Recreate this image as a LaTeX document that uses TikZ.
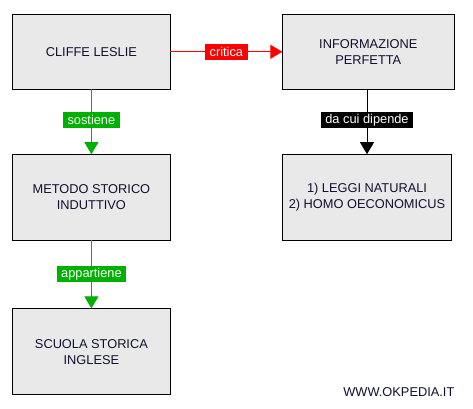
\documentclass[tikz,border=0pt]{standalone}
\usepackage{fontspec}
\setmainfont{Liberation Sans}
\usetikzlibrary{arrows.meta}
\definecolor{boxfill}{HTML}{E9E9E9}
\definecolor{txt}{HTML}{101030}
\definecolor{lgreen}{HTML}{00B000}
\begin{document}
\begin{tikzpicture}[x=1pt,y=-1pt,
  box/.style={draw=black,line width=1.1pt,fill=boxfill,inner sep=0pt,outer sep=0pt,
    align=center,text=txt,font=\fontsize{12.8}{16}\selectfont},
  lbl/.style={text=white,inner sep=0pt,minimum height=16pt,font=\fontsize{12.8}{15}\selectfont},
  tip/.style={-{Triangle[length=12pt,width=14pt]}},
  conn/.style={line width=0.9pt}]
\useasboundingbox (0,0) rectangle (473,408);
\fill[white] (0,0) rectangle (473,408);
\node[box,minimum width=158pt,minimum height=75pt] (cliffe) at (91.4,51.8) {CLIFFE LESLIE};
\node[box,minimum width=172pt,minimum height=75pt] (info) at (368.3,51.8) {INFORMAZIONE\\PERFETTA};
\node[box,minimum width=158pt,minimum height=86pt] (metodo) at (91.4,197.2) {METODO STORICO\\INDUTTIVO};
\node[box,minimum width=169.5pt,minimum height=86pt] (leggi) at (367,197.2) {1) LEGGI NATURALI\\2) HOMO OECONOMICUS};
\node[box,minimum width=158pt,minimum height=86.5pt] (scuola) at (91.4,351.6) {SCUOLA STORICA\\INGLESE};
\node[text=txt,font=\fontsize{12.8}{15}\selectfont,anchor=east,inner sep=0pt] (www) at (454.5,392.5) {WWW.OKPEDIA.IT};
\draw[conn,red,tip] (cliffe) -- node[lbl,fill=red,minimum width=43pt] (lc) {critica} (info);
\draw[conn,lgreen,tip] (cliffe) -- node[lbl,fill=lgreen,minimum width=57pt,pos=0.47] (ls) {sostiene} (metodo);
\draw[conn,black,tip] (info.south -| leggi.north) -- node[lbl,fill=black,minimum width=92.5pt,pos=0.47] (ld) {da cui dipende} (leggi);
\draw[conn,lgreen,tip] (metodo) -- node[lbl,fill=lgreen,minimum width=68.5pt,pos=0.5] (la) {appartiene} (scuola);
\end{tikzpicture}
\end{document}
